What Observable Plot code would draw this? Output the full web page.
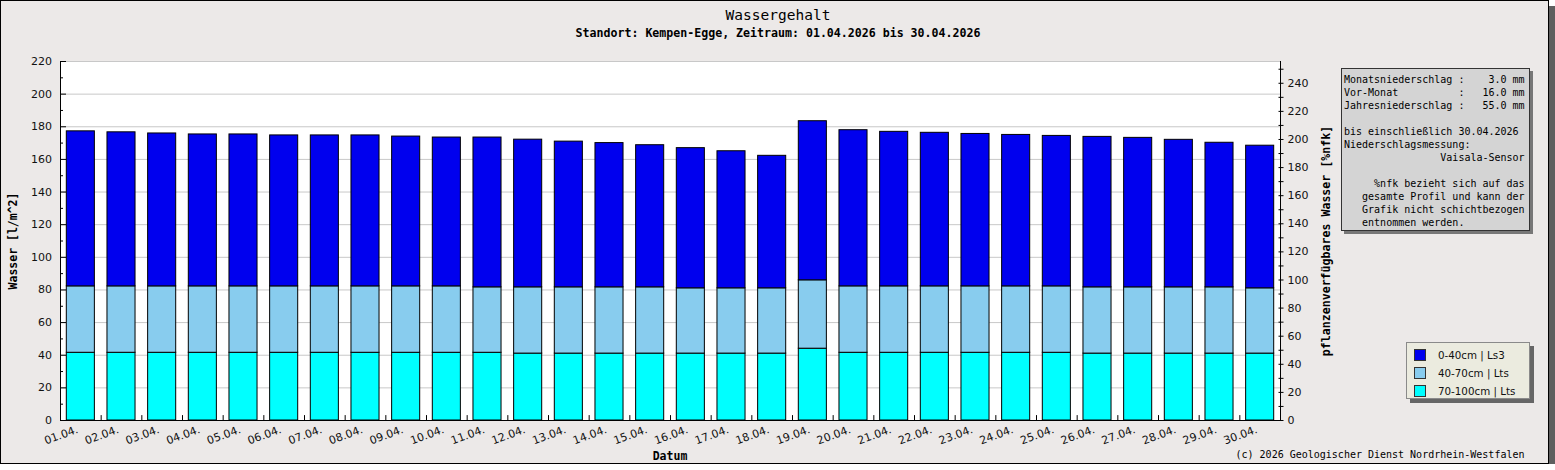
<!DOCTYPE html>
<html><head><meta charset="utf-8">
<script src="https://cdn.jsdelivr.net/npm/d3@7"></script>
<script src="https://cdn.jsdelivr.net/npm/@observablehq/plot@0.6"></script>
<style>
body{margin:0;background:#fff;}
#wrap{position:relative;width:1549px;height:464px;box-sizing:border-box;border:1px solid #000;background:#ece9e8;box-shadow:6px 6px 0 #5e5e5e;font-family:"DejaVu Sans Mono",monospace;color:#000;overflow:visible;}
#chart{position:absolute;left:0;top:0;}
.abs{position:absolute;white-space:pre;line-height:1;}
.center{transform:translate(-50%,-50%);}
.rot{transform:translate(-50%,-50%) rotate(-90deg);}
#info{left:1340px;top:67px;width:189px;height:163px;box-sizing:border-box;border:1px solid #333;background:#d4d4d4;box-shadow:3px 3px 0 #777;padding:4px 0 0 2px;font-size:10px;line-height:13px;}
#legend{left:1405px;top:341px;width:124px;height:57px;box-sizing:border-box;border:1px solid #8a8a8a;background:#ebebdf;box-shadow:4px 4px 0 #666;font-family:"DejaVu Sans",sans-serif;font-size:10.3px;}
.row{position:absolute;left:7px;height:12px;line-height:12px;}
.sw{position:absolute;left:0;top:0;width:10px;height:10px;border:1px solid #333;}
.lt{position:absolute;left:24px;top:0;white-space:pre;color:#111;}
</style></head><body>
<div id="wrap">
  <div id="chart"></div>
  <div class="abs center" id="title" style="left:777px;top:14px;font-size:14.5px;">Wassergehalt</div>
  <div class="abs center" id="subtitle" style="left:777px;top:33px;font-size:11.6px;font-weight:bold;">Standort: Kempen-Egge, Zeitraum: 01.04.2026 bis 30.04.2026</div>
  <div class="abs rot" id="ylab" style="left:13px;top:240px;font-size:11.5px;font-weight:bold;">Wasser [l/m^2]</div>
  <div class="abs rot" id="ylab2" style="left:1326px;top:240px;font-size:11.6px;font-weight:bold;">pflanzenverfügbares Wasser [%nfk]</div>
  <div class="abs center" id="xlab" style="left:669px;top:456px;font-size:11.5px;font-weight:bold;">Datum</div>
  <div class="abs center" id="copy" style="left:1379px;top:454px;font-size:10px;">(c) 2026 Geologischer Dienst Nordrhein-Westfalen</div>
  <div class="abs" id="info"></div>
  <div class="abs" id="legend"></div>
</div>
<script>
const days = ["01.04.","02.04.","03.04.","04.04.","05.04.","06.04.","07.04.","08.04.","09.04.","10.04.",
              "11.04.","12.04.","13.04.","14.04.","15.04.","16.04.","17.04.","18.04.","19.04.","20.04.",
              "21.04.","22.04.","23.04.","24.04.","25.04.","26.04.","27.04.","28.04.","29.04.","30.04."];
const layers = ["0-40cm | Ls3", "40-70cm | Lts", "70-100cm | Lts"];
const colors = ["#0000ee", "#88ccee", "#00ffff"];
// water content per layer [l/m^2]
const layer70_100 = [41.5,41.5,41.5,41.5,41.5,41.5,41.5,41.5,41.5,41.5,
                     41.5,41.0,41.0,41.0,41.0,41.0,41.0,41.0,44.0,41.5,
                     41.5,41.5,41.5,41.5,41.5,41.0,41.0,41.0,41.0,41.0];
const layer40_70  = [40.7,40.7,40.7,40.7,40.7,40.7,40.7,40.7,40.7,40.7,
                     40.1,40.6,40.6,40.6,40.6,40.0,40.0,40.0,41.9,40.7,
                     40.7,40.7,40.7,40.7,40.7,40.6,40.6,40.6,40.6,40.0];
const layer0_40   = [95.0,94.4,93.7,93.1,93.1,92.5,92.5,92.5,91.8,91.2,
                     91.8,90.5,89.3,88.4,87.1,85.9,84.0,81.2,97.5,95.7,
                     94.7,94.1,93.4,92.8,92.2,92.2,91.6,90.4,88.6,87.4];
const leftTicks = [0,20,40,60,80,100,120,140,160,180,200,220];
const leftMinor = [10,30,50,70,90,110,130,150,170,190,210];
const rightTicks = [0,20,40,60,80,100,120,140,160,180,200,220,240];
const rightMinor = [10,30,50,70,90,110,130,150,170,190,210,230,250];
const yMax = 220;
const nfkMax = 255.5;
const infoLines = [
  "Monatsniederschlag :    3.0 mm",
  "Vor-Monat          :   16.0 mm",
  "Jahresniederschlag :   55.0 mm",
  "",
  "bis einschließlich 30.04.2026",
  "Niederschlagsmessung:",
  "                Vaisala-Sensor",
  "",
  "     %nfk bezieht sich auf das",
  "   gesamte Profil und kann der",
  "   Grafik nicht schichtbezogen",
  "   entnommen werden."
];

const table = [];
days.forEach((d, i) => {
  table.push({day: d, layer: layers[2], value: layer70_100[i]});
  table.push({day: d, layer: layers[1], value: layer40_70[i]});
  table.push({day: d, layer: layers[0], value: layer0_40[i]});
});

const W = 1547, H = 462, mL = 59, mR = 268, mT = 60, mB = 43;
const half = (W - mL - mR) / days.length / 2;
const k = yMax / nfkMax;

const chart = Plot.plot({
  width: W, height: H,
  marginLeft: mL, marginRight: mR, marginTop: mT, marginBottom: mB,
  style: {background: "transparent", fontFamily: "DejaVu Sans, sans-serif", fontSize: "11px", color: "#111", overflow: "visible"},
  x: {domain: days, paddingInner: 0.31, paddingOuter: 0.155, align: 0.5, round: false, axis: null},
  y: {domain: [0, yMax], axis: null},
  color: {domain: layers, range: colors},
  marks: [
    Plot.frame({fill: "white", stroke: "none"}),
    Plot.gridY(leftTicks, {stroke: "#c8c8c8", strokeOpacity: 1}),
    Plot.barY(table, {x: "day", y: "value", fill: "layer", stroke: "#000", strokeWidth: 1}),
    Plot.ruleY([0], {stroke: "#000"}),
    Plot.ruleX([days[0]], {dx: -half, stroke: "#000"}),
    Plot.ruleX([days[days.length - 1]], {dx: half, stroke: "#000"}),
    Plot.ruleX(days.slice(0, -1), {dx: half, y1: 0, y2: 3, stroke: "#000"}),
    Plot.axisY(leftTicks, {anchor: "left", tickSize: -6, fill: "none", stroke: "#000", label: null}),
    Plot.axisY(leftMinor, {anchor: "left", tickSize: -3, fill: "none", stroke: "#000", label: null}),
    Plot.axisY(leftTicks, {anchor: "left", tickSize: 0, tickPadding: 8.5, fill: "#111", label: null}),
    Plot.axisY(rightTicks.concat(rightMinor).map(v => v * k), {anchor: "right", tickSize: 2.5, fill: "none", stroke: "#000", label: null}),
    Plot.axisY(rightTicks.concat(rightMinor).map(v => v * k), {anchor: "right", tickSize: -2.5, fill: "none", stroke: "#000", label: null}),
    Plot.axisY(rightTicks.map(v => v * k), {anchor: "right", tickSize: 0, tickPadding: 7, fill: "#111", label: null, tickFormat: d => String(Math.round(d / k))}),
    Plot.text(days, {x: d => d, text: d => d, frameAnchor: "bottom", rotate: -20, textAnchor: "end", dx: -2, dy: 12, fill: "#111"})
  ]
});
document.getElementById("chart").appendChild(chart);

document.getElementById("info").textContent = infoLines.join("\n");

const leg = document.getElementById("legend");
layers.forEach((l, i) => {
  const row = document.createElement("div");
  row.className = "row";
  row.style.top = (6 + i * 18) + "px";
  const sw = document.createElement("div");
  sw.className = "sw";
  sw.style.background = colors[i];
  const t = document.createElement("div");
  t.className = "lt";
  t.textContent = l;
  row.appendChild(sw); row.appendChild(t);
  leg.appendChild(row);
});
</script>
</body></html>
